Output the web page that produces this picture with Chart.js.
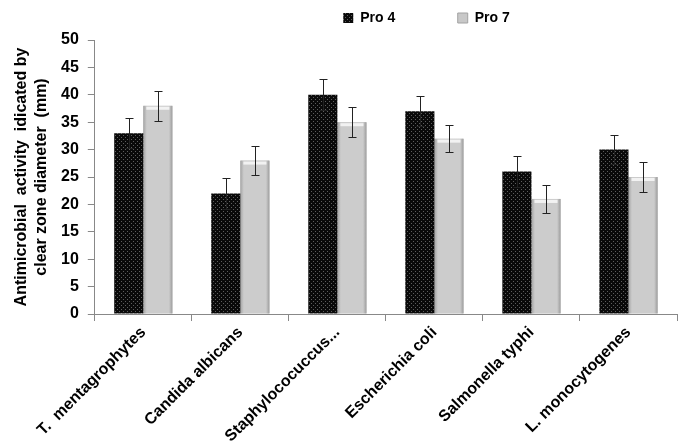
<!DOCTYPE html>
<html>
<head>
<meta charset="utf-8">
<script src="https://cdn.jsdelivr.net/npm/chart.js@4.4.1/dist/chart.umd.min.js"></script>
<style>
  html,body{margin:0;padding:0;background:#fff;}
  #wrap{width:685px;height:448px;}
</style>
</head>
<body>
<div id="wrap"><canvas id="chart" width="685" height="448"></canvas></div>
<script>
/* ---------- data ---------- */
const categories = ["T.  mentagrophytes", "Candida albicans", "Staphylococuccus...",
                    "Escherichia coli", "Salmonella typhi", "L. monocytogenes"];
const pro4     = [33, 22, 40, 37, 26, 30];
const pro7     = [38, 28, 35, 32, 21, 25];
const pro4Err  = [2.7, 2.8, 2.8, 2.7, 2.8, 2.7];
const pro7Err  = [2.7, 2.6, 2.7, 2.5, 2.6, 2.7];
const yTicks   = [0, 5, 10, 15, 20, 25, 30, 35, 40, 45, 50];

const FONT = "'Liberation Sans', Arial, sans-serif";

// dotted black fill for Pro 4
function dotPattern(){
  const c = document.createElement("canvas");
  c.width = 4; c.height = 4;
  const x = c.getContext("2d");
  x.fillStyle = "#0a0a0a"; x.fillRect(0,0,4,4);
  x.fillStyle = "#5e5e5e";
  x.fillRect(1,1,1,1); x.fillRect(3,3,1,1);
  return x.createPattern(c, "repeat");
}

// 3D-ish shading on the light bars (uses the bar elements laid out by chart.js)
const barShade = {
  id: "barShade",
  afterDatasetDraw(chart, args){
    if (args.index !== 1) return;
    const ctx = chart.ctx;
    ctx.save();
    args.meta.data.forEach(bar => {
      const l = bar.x - bar.width/2, r = bar.x + bar.width/2;
      const g = ctx.createLinearGradient(l, 0, r, 0);
      g.addColorStop(0, "#a4a4a4");
      g.addColorStop(0.12, "#cccccc");
      g.addColorStop(0.88, "#cccccc");
      g.addColorStop(1, "#9c9c9c");
      ctx.fillStyle = g;
      ctx.fillRect(l, bar.y, bar.width, bar.base - bar.y);
      ctx.fillStyle = "rgba(255,255,255,0.75)";
      ctx.fillRect(l + 3, bar.y + 1, bar.width - 6, 3);
    });
    ctx.restore();
  }
};

// error bars drawn through the chart's own scales
const errorBars = {
  id: "errorBars",
  afterDatasetsDraw(chart){
    const {ctx, scales:{y}} = chart;
    const errs = [pro4Err, pro7Err];
    ctx.save();
    ctx.strokeStyle = "#222";
    ctx.lineWidth = 1;
    chart.data.datasets.forEach((ds, di) => {
      chart.getDatasetMeta(di).data.forEach((bar, i) => {
        const v = ds.data[i], e = errs[di][i];
        const x = Math.round(bar.x) + 0.5;
        const top = Math.round(y.getPixelForValue(v + e)) + 0.5;
        const bot = Math.round(y.getPixelForValue(v - e)) + 0.5;
        ctx.beginPath();
        ctx.moveTo(x, top); ctx.lineTo(x, bot);
        ctx.moveTo(x-4, top); ctx.lineTo(x+4, top);
        ctx.moveTo(x-4, bot); ctx.lineTo(x+4, bot);
        ctx.stroke();
      });
    });
    ctx.restore();
  }
};

// move legend to the right like the original, leave a gap under it
const legendShift = {
  id: "legendShift",
  beforeLayout(chart){
    const lg = chart.legend;
    if (lg && !lg._fitPatched){
      const fit = lg.fit.bind(lg);
      lg.fit = function(){ fit(); this.height += 5; };
      lg._fitPatched = true;
    }
  },
  afterLayout(chart){
    const lg = chart.legend;
    if (!lg) return;
    lg.left += 82; lg.right += 82;
  }
};

new Chart(document.getElementById("chart"), {
  type: "bar",
  data: {
    labels: categories,
    datasets: [
      { label: "Pro 4", data: pro4, backgroundColor: dotPattern(),
        borderColor: "#111", borderWidth: 0 },
      { label: "Pro 7", data: pro7, backgroundColor: "#c8c8c8",
        borderColor: "#a2a2a2", borderWidth: 1 }
    ]
  },
  options: {
    responsive: false,
    animation: false,
    categoryPercentage: 0.6,
    barPercentage: 1.0,
    layout: { padding: { left: 12, right: 8, top: 3, bottom: 0 } },
    plugins: {
      legend: {
        position: "top",
        labels: {
          boxWidth: 10, boxHeight: 10, padding: 8,
          color: "#000",
          font: { family: FONT, size: 14, weight: "bold" },
          generateLabels(chart){
            const items = Chart.defaults.plugins.legend.labels.generateLabels(chart);
            items[0].text = items[0].text + "              ";
            return items;
          }
        }
      },
      tooltip: { enabled: false }
    },
    scales: {
      x: {
        grid: { drawOnChartArea: false, offset: true, tickLength: 7, color: "#888" },
        border: { color: "#888" },
        ticks: {
          color: "#000", maxRotation: 45, minRotation: 45, padding: 2,
          font: { family: FONT, size: 16, weight: "bold" }
        }
      },
      y: {
        min: 0, max: 50,
        afterBuildTicks(axis){ axis.ticks = yTicks.map(v => ({value: v})); },
        grid: { drawOnChartArea: false, tickLength: 7, color: "#888" },
        border: { color: "#888" },
        ticks: {
          color: "#000", padding: 9,
          font: { family: FONT, size: 16, weight: "bold" }
        },
        title: {
          display: true,
          text: ["Antimicrobial  activity  idicated by", "clear zone diameter  (mm)"],
          color: "#000",
          font: { family: FONT, size: 16, weight: "bold", lineHeight: 1.25 },
          padding: { top: 0, bottom: 0 }
        }
      }
    }
  },
  plugins: [barShade, errorBars, legendShift]
});
</script>
</body>
</html>
